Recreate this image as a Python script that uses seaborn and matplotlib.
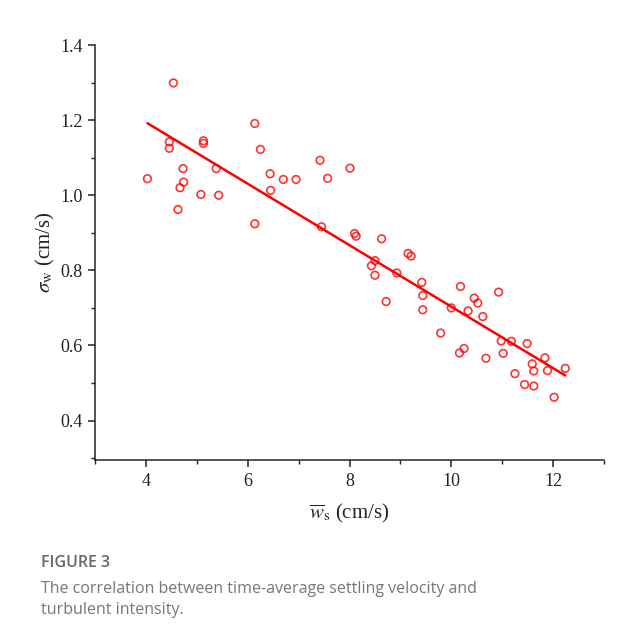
import numpy as np
import pandas as pd
import matplotlib
matplotlib.use('Agg')
import matplotlib.pyplot as plt
from matplotlib.ticker import MultipleLocator
import seaborn as sns

# values
ws_mean = [4.54, 6.14, 4.46, 4.46, 5.13, 5.13, 6.25, 4.73, 5.38, 4.03,
           6.44, 6.70, 6.95, 4.74, 4.67, 6.45, 5.08, 5.43, 4.63, 6.14,
           7.42, 8.01, 7.57, 7.45, 8.10, 8.13, 8.63, 9.15, 9.21, 8.50,
           8.43, 8.50, 8.93, 9.42, 10.18, 9.44, 8.72, 9.44, 10.00, 10.33,
           10.93, 10.45, 10.52, 10.62, 9.79, 10.98, 11.18, 11.49, 10.25, 10.16,
           11.02, 10.68, 11.84, 11.59, 11.62, 11.89, 12.24, 11.25, 11.44, 11.62,
           12.02]
sigma_w = [1.299, 1.191, 1.142, 1.125, 1.145, 1.138, 1.122, 1.071, 1.071, 1.044,
           1.057, 1.042, 1.042, 1.035, 1.020, 1.013, 1.002, 1.000, 0.962, 0.924,
           1.093, 1.072, 1.045, 0.916, 0.898, 0.891, 0.884, 0.845, 0.838, 0.826,
           0.812, 0.787, 0.793, 0.768, 0.757, 0.733, 0.717, 0.695, 0.700, 0.692,
           0.742, 0.726, 0.713, 0.677, 0.633, 0.612, 0.611, 0.605, 0.592, 0.580,
           0.579, 0.566, 0.567, 0.551, 0.532, 0.533, 0.539, 0.525, 0.496, 0.492,
           0.462]

x_ticks = [4, 6, 8, 10, 12]
y_ticks = [0.4, 0.6, 0.8, 1.0, 1.2, 1.4]
caption_title = 'FIGURE 3'
caption_lines = ['The correlation between time-average settling velocity and',
                 'turbulent intensity.']

df = pd.DataFrame({'ws': ws_mean, 'sigma': sigma_w})

sns.set_style('ticks')
serif = ['Liberation Serif', 'DejaVu Serif']
sans = ['Open Sans', 'DejaVu Sans']
plt.rcParams['font.family'] = serif
plt.rcParams['mathtext.fontset'] = 'stix'
plt.rcParams['axes.linewidth'] = 1.1
plt.rcParams['xtick.major.width'] = 1.1
plt.rcParams['ytick.major.width'] = 1.1
plt.rcParams['xtick.minor.width'] = 1.0
plt.rcParams['ytick.minor.width'] = 1.0

fig = plt.figure(figsize=(6.22, 6.44), dpi=100)
ax = fig.add_axes([95 / 622, 1 - 460 / 644, 509 / 622, 415 / 644])

sns.regplot(data=df, x='ws', y='sigma', ci=None, ax=ax,
            scatter_kws=dict(facecolors='none', edgecolors='#ff0000', s=30, linewidths=1.2),
            line_kws=dict(color='#ff0000', lw=1.8))

ax.set_xlim(3, 13)
ax.set_ylim(0.295, 1.4)
ax.set_xticks(x_ticks)
ax.set_yticks(y_ticks)
ax.set_xticklabels([str(v) for v in x_ticks], family=serif)
ax.set_yticklabels([f'{v:.1f}' for v in y_ticks], family=serif)
ax.xaxis.set_minor_locator(MultipleLocator(1))
ax.yaxis.set_minor_locator(MultipleLocator(0.1))
ax.tick_params(which='major', length=5, labelsize=13, pad=4, color='#222222', labelcolor='#222222')
ax.tick_params(which='minor', length=3, color='#222222')
sns.despine(ax=ax)

ax.set_xlabel(r'$\overline{w}_{\rm s}$ (cm/s)', fontsize=15, labelpad=9, color='#222222')
ax.set_ylabel(r'$\sigma_{\rm w}$ (cm/s)', fontsize=15, labelpad=2, color='#222222')

# caption under the chart
fig.text(41 / 622, 1 - 567 / 644, caption_title, fontsize=11.5, family=sans,
         fontweight='semibold', color='#666666', va='baseline')
for i, line in enumerate(caption_lines):
    fig.text(41 / 622, 1 - (593 + 21 * i) / 644, line, fontsize=11.5,
             family=sans, color='#777777', va='baseline')

plt.savefig('out.png', dpi=100)
